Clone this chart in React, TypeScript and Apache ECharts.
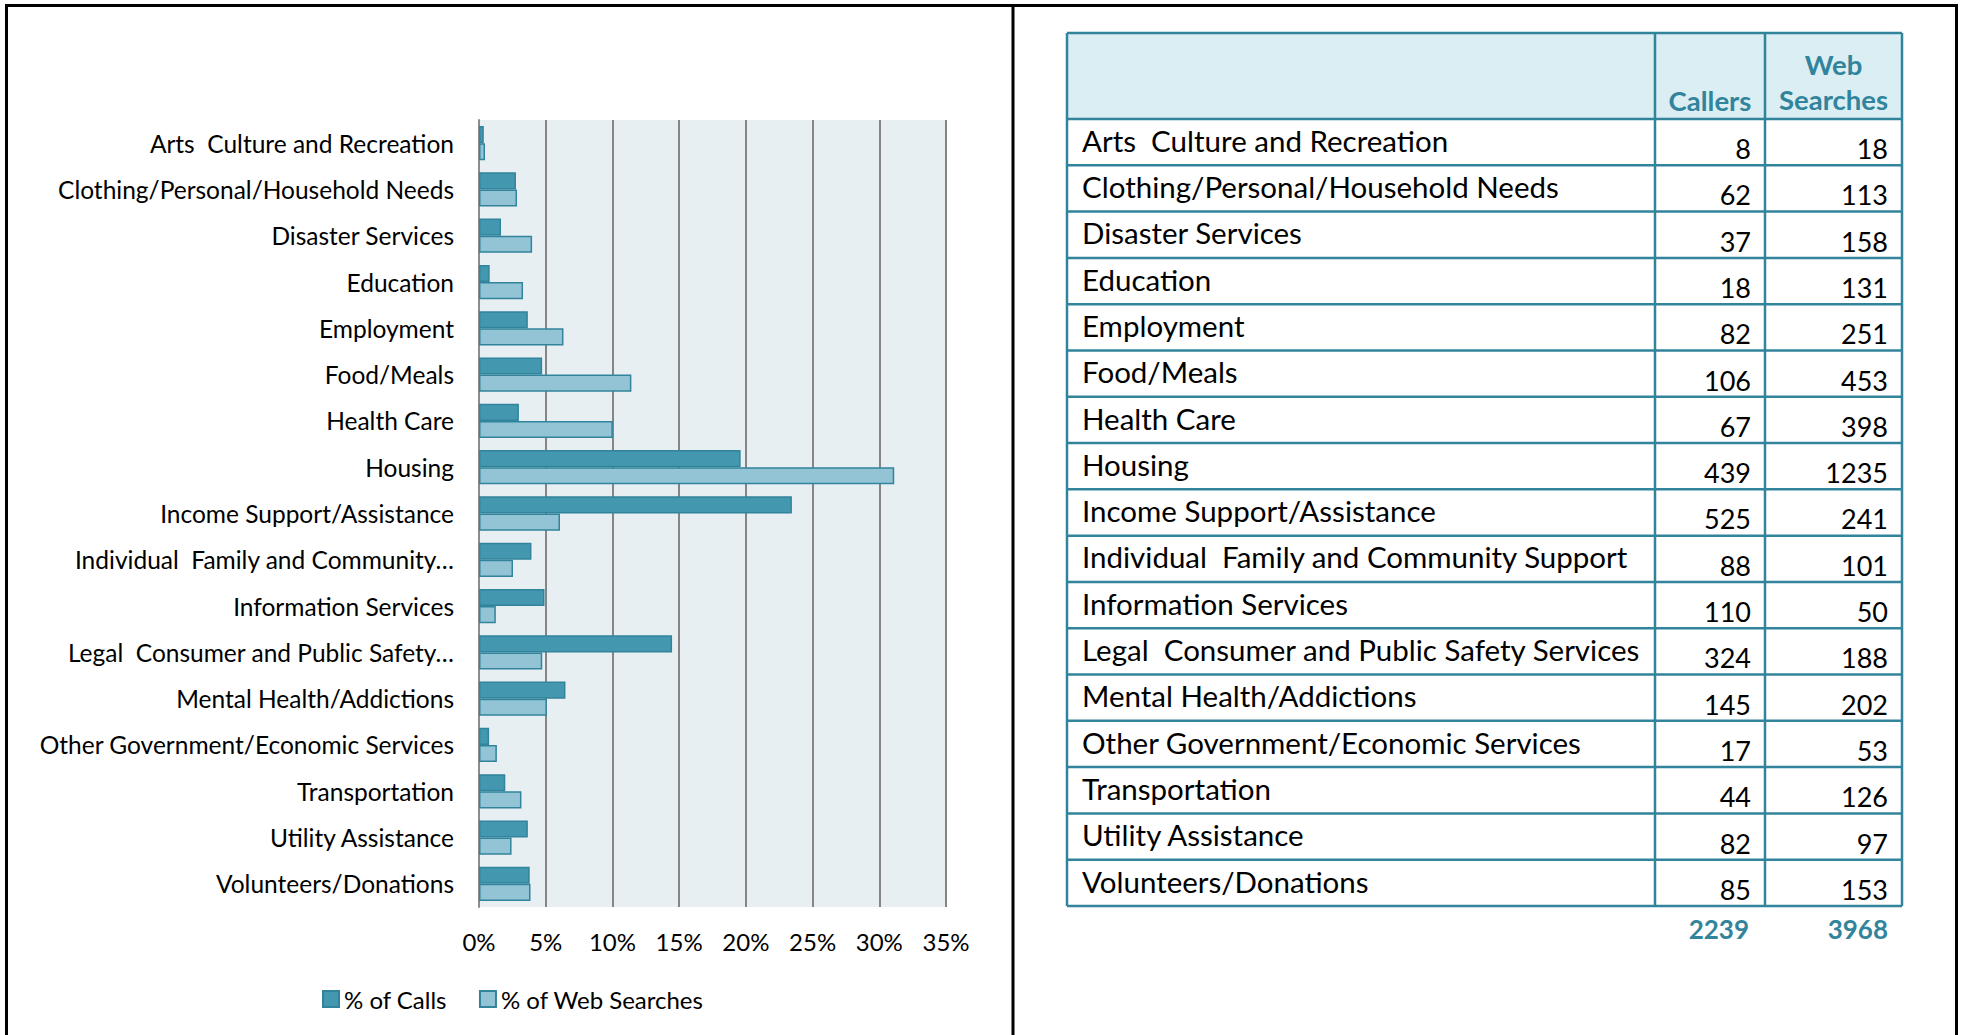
import React, { useEffect, useRef } from 'react';
import * as echarts from 'echarts';

const categories = [
  'Arts  Culture and Recreation',
  'Clothing/Personal/Household Needs',
  'Disaster Services',
  'Education',
  'Employment',
  'Food/Meals',
  'Health Care',
  'Housing',
  'Income Support/Assistance',
  'Individual  Family and Community Support',
  'Information Services',
  'Legal  Consumer and Public Safety Services',
  'Mental Health/Addictions',
  'Other Government/Economic Services',
  'Transportation',
  'Utility Assistance',
  'Volunteers/Donations',
];

const chartLabels = [
  'Arts  Culture and Recreation',
  'Clothing/Personal/Household Needs',
  'Disaster Services',
  'Education',
  'Employment',
  'Food/Meals',
  'Health Care',
  'Housing',
  'Income Support/Assistance',
  'Individual  Family and Community…',
  'Information Services',
  'Legal  Consumer and Public Safety…',
  'Mental Health/Addictions',
  'Other Government/Economic Services',
  'Transportation',
  'Utility Assistance',
  'Volunteers/Donations',
];

const callers = [8, 62, 37, 18, 82, 106, 67, 439, 525, 88, 110, 324, 145, 17, 44, 82, 85];
const webSearches = [18, 113, 158, 131, 251, 453, 398, 1235, 241, 101, 50, 188, 202, 53, 126, 97, 153];
const totals = ['2239', '3968'];

const pctCalls = [0.36, 2.77, 1.65, 0.8, 3.66, 4.73, 2.99, 19.61, 23.45, 3.93, 4.91, 14.47, 6.48, 0.76, 1.97, 3.66, 3.8];
const pctWeb = [0.45, 2.85, 3.98, 3.3, 6.33, 11.42, 10.03, 31.12, 6.07, 2.55, 1.26, 4.74, 5.09, 1.34, 3.18, 2.44, 3.86];

const seriesNames = ['% of Calls', '% of Web Searches'];
const headerCols = ['Callers', 'Web\nSearches'];

const FONT = 'Lato, "Noto Sans", sans-serif';
const TEAL = '#31849B';

export default function App() {
  const ref = useRef<HTMLDivElement>(null);
  useEffect(() => {
    document.body.style.margin = '0';
    const chart = echarts.init(ref.current!, null, { renderer: 'svg' });

    // table geometry
    const tL = 1067, c1 = 1655, c2 = 1765, tR = 1902;
    const hTop = 33, hBot = 119;
    const rowH = (906 - hBot) / categories.length;
    const graphics: any[] = [];

    // outer frame
    const frame = (x1: number, y1: number, x2: number, y2: number) =>
      graphics.push({ type: 'line', shape: { x1, y1, x2, y2 }, style: { stroke: '#000', lineWidth: 3 }, silent: true });
    frame(5, 5.5, 1958, 5.5);
    frame(6.5, 4, 6.5, 1035);
    frame(1013, 4, 1013, 1035);
    frame(1956.5, 4, 1956.5, 1035);

    // header background
    graphics.push({ type: 'rect', shape: { x: tL, y: hTop, width: tR - tL, height: hBot - hTop }, style: { fill: '#DAEEF3' } });

    // rows text
    categories.forEach((c, i) => {
      const top = hBot + i * rowH;
      graphics.push({ type: 'text', x: tL + 15, y: top + rowH * 0.46, style: { text: c, fill: '#000', fontSize: 29.5, fontFamily: FONT, textAlign: 'left', textVerticalAlign: 'middle', align: 'left', verticalAlign: 'middle' } });
      graphics.push({ type: 'text', x: c2 - 14, y: top + rowH * 0.64, style: { text: String(callers[i]), fill: '#000', fontSize: 27, fontFamily: FONT, textAlign: 'right', textVerticalAlign: 'middle', align: 'right', verticalAlign: 'middle' } });
      graphics.push({ type: 'text', x: tR - 14, y: top + rowH * 0.64, style: { text: String(webSearches[i]), fill: '#000', fontSize: 27, fontFamily: FONT, textAlign: 'right', textVerticalAlign: 'middle', align: 'right', verticalAlign: 'middle' } });
    });

    // header texts
    graphics.push({ type: 'text', x: (c1 + c2) / 2, y: 100, style: { text: headerCols[0], fill: TEAL, fontSize: 27.5, fontWeight: 'bold', fontFamily: FONT, textAlign: 'center', textVerticalAlign: 'middle', align: 'center', verticalAlign: 'middle' } });
    graphics.push({ type: 'text', x: (c2 + tR) / 2, y: 82, style: { text: headerCols[1], fill: TEAL, fontSize: 27.5, fontWeight: 'bold', lineHeight: 35, fontFamily: FONT, textAlign: 'center', textVerticalAlign: 'middle', align: 'center', verticalAlign: 'middle' } });

    // totals
    graphics.push({ type: 'text', x: c2 - 16, y: 929, style: { text: totals[0], fill: TEAL, fontSize: 26, fontWeight: 'bold', fontFamily: FONT, textAlign: 'right', textVerticalAlign: 'middle', align: 'right', verticalAlign: 'middle' } });
    graphics.push({ type: 'text', x: tR - 14, y: 929, style: { text: totals[1], fill: TEAL, fontSize: 26, fontWeight: 'bold', fontFamily: FONT, textAlign: 'right', textVerticalAlign: 'middle', align: 'right', verticalAlign: 'middle' } });

    // table lines
    const tline = (x1: number, y1: number, x2: number, y2: number) =>
      graphics.push({ type: 'line', shape: { x1, y1, x2, y2 }, style: { stroke: TEAL, lineWidth: 2.5 }, silent: true });
    for (let i = 0; i <= categories.length; i++) {
      const y = hBot + i * rowH;
      tline(tL, y, tR, y);
    }
    tline(tL, hTop, tR, hTop);
    tline(tL, hTop, tL, 906);
    tline(c1, hTop, c1, 906);
    tline(c2, hTop, c2, 906);
    tline(tR, hTop, tR, 906);

    chart.setOption({
      animation: false,
      textStyle: { fontFamily: FONT },
      grid: { left: 479, right: 1963 - 946, top: 120, bottom: 1035 - 907, show: true, backgroundColor: '#E8EFF3', borderWidth: 0 },
      legend: {
        data: seriesNames,
        left: 317,
        top: 982,
        itemWidth: 16,
        itemHeight: 16,
        itemGap: 32,
        icon: 'rect',
        textStyle: { fontSize: 24, color: '#000', fontFamily: FONT },
      },
      xAxis: {
        type: 'value',
        min: 0,
        max: 35,
        interval: 5,
        axisLine: { show: false },
        axisTick: { show: false },
        axisLabel: { formatter: '{value}%', fontSize: 24, color: '#000', margin: 22, fontFamily: FONT },
        splitLine: { show: true, lineStyle: { color: '#858585', width: 2 } },
      },
      yAxis: {
        type: 'category',
        inverse: true,
        data: chartLabels,
        axisLine: { show: true, lineStyle: { color: '#8C8C8C', width: 2 } },
        axisTick: { show: false },
        axisLabel: { fontSize: 24.5, color: '#000', margin: 25, fontFamily: FONT },
      },
      series: [
        {
          name: seriesNames[0],
          type: 'bar',
          data: pctCalls,
          barGap: '0%',
          barCategoryGap: '26%',
          itemStyle: { color: '#4398AF', borderColor: TEAL, borderWidth: 1.5 },
        },
        {
          name: seriesNames[1],
          type: 'bar',
          data: pctWeb,
          barGap: '0%',
          barCategoryGap: '26%',
          itemStyle: { color: '#93C4D5', borderColor: TEAL, borderWidth: 1.5 },
        },
      ],
      graphic: graphics,
    });
    return () => chart.dispose();
  }, []);
  return <div ref={ref} style={{ width: 1963, height: 1035 }} />;
}
